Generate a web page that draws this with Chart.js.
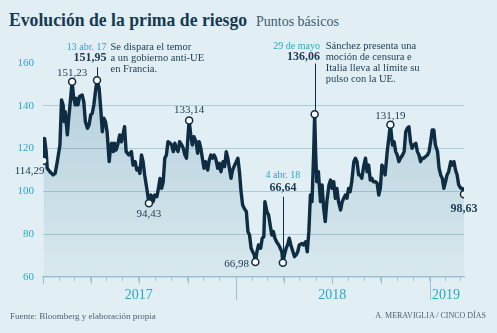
<!DOCTYPE html>
<html lang="es">
<head>
<meta charset="utf-8">
<title>Evolución de la prima de riesgo</title>
<script src="https://cdn.jsdelivr.net/npm/chart.js@4.4.1/dist/chart.umd.min.js"></script>
<style>
  html, body { margin: 0; padding: 0; }
  body { width: 497px; height: 333px; background: #e1eff4; position: relative; overflow: hidden; font-family: "Liberation Serif", serif; }
  #grafico { position: absolute; left: 0; top: 0; width: 497px; height: 333px; }
  .txt { position: absolute; white-space: nowrap; }
  #titulo { left: 9px; top: 10.3px; font-size: 19px; line-height: 20px; font-weight: bold; color: #163a51; transform: scaleX(0.93); transform-origin: left; }
  #unidad { left: 256px; top: 12px; font-size: 14px; line-height: 20px; color: #3b5b70; }
  #fuente { left: 10px; top: 309.5px; font-size: 9px; line-height: 12px; color: #4a6274; }
  #firma { right: 11px; top: 310px; font-size: 8px; line-height: 12px; color: #4a6274; }
</style>
</head>
<body>
<div class="txt" id="titulo">Evolución de la prima de riesgo</div>
<div class="txt" id="unidad">Puntos básicos</div>
<canvas id="grafico" width="497" height="333"></canvas>
<div class="txt" id="fuente">Fuente: Bloomberg y elaboración propia</div>
<div class="txt" id="firma">A. MERAVIGLIA / CINCO DÍAS</div>
<script>
// Datos: días desde el 1 de enero de 2017 y prima de riesgo (puntos básicos)
const dias = [
  1, 3, 6, 8, 13, 19, 23, 27, 30, 32, 35, 38, 40, 42, 46, 48, 51, 55, 58, 61,
  63, 66, 69, 74, 77, 80, 84, 87, 90, 93, 96, 99, 102, 106, 109, 112, 115, 118, 121, 125,
  128, 130, 133, 135, 138, 141, 145, 148, 151, 154, 157, 162, 167, 170, 174, 177, 180, 183, 186, 189,
  192, 196, 200, 204, 208, 211, 215, 218, 221, 224, 227, 230, 233, 236, 240, 243, 246, 249, 252, 255,
  258, 262, 265, 268, 271, 274, 276, 279, 282, 285, 289, 292, 295, 298, 301, 304, 307, 311, 314, 317,
  320, 323, 326, 330, 333, 336, 340, 343, 346, 349, 352, 355, 358, 362, 365, 368, 371, 374, 377, 380,
  384, 387, 390, 393, 396, 399, 401, 404, 407, 411, 414, 417, 419, 423, 426, 429, 432, 435, 438, 441,
  445, 448, 451, 453, 456, 459, 462, 465, 468, 472, 475, 478, 481, 484, 489, 492, 496, 499, 502, 505,
  508, 511, 513, 515, 517, 520, 524, 527, 530, 533, 536, 540, 543, 546, 549, 552, 555, 558, 562, 565,
  568, 571, 574, 577, 580, 583, 587, 590, 593, 596, 599, 602, 606, 609, 612, 615, 618, 621, 624, 628,
  631, 634, 637, 640, 643, 646, 650, 653, 656, 660, 663, 666, 669, 672, 675, 679, 682, 685, 688, 691,
  694, 697, 700, 704, 707, 710, 713, 716, 719, 722, 726, 729, 732, 735, 738, 741, 745, 748, 751, 754,
  757, 760, 763, 766, 770, 773, 776, 779, 782, 785, 789, 792, 795
];
const prima = [
  114.29, 124.8, 118.6, 110.8, 109.2, 107.7, 108.4, 113.9, 118.6, 121.7, 142.7, 140.4, 132.6, 137.3, 126.4, 132.6, 140.4, 151.23, 143.5, 140.4,
  143.5, 140.4, 144.3, 145, 141.9, 132.6, 129.5, 131, 135.7, 136.5, 140.4, 146.6, 151.95, 148.2, 138.8, 127.9, 134.2, 132.6, 127.9, 113.9,
  121.7, 122.5, 118.6, 122.5, 119.3, 121.7, 126.4, 123.2, 126.4, 130.2, 118.6, 117, 118.6, 112.3, 113.9, 110, 110.8, 108.4, 117, 113.9,
  107.7, 101.4, 94.43, 98.3, 95.2, 98.3, 97.5, 101.4, 106.1, 101.4, 104.5, 115.5, 117, 123.2, 122.5, 121.7, 118.6, 122.5, 120.1, 118.6,
  123.2, 121.7, 120.1, 117, 115.5, 126.4, 133.14, 126.4, 121.7, 125.6, 123.2, 117.8, 123.2, 120.1, 115.5, 110.8, 113.9, 110, 114.7, 117,
  115.5, 117, 115.5, 110.8, 113.1, 109.2, 113.9, 111.6, 118.6, 115.5, 110.8, 106.1, 110, 112.3, 113.9, 115.5, 109.2, 99.9, 93.6, 92.1,
  90.5, 81.2, 79.6, 73.4, 71.8, 70.3, 66.98, 71.8, 75, 73.4, 78.1, 78.8, 95.2, 90.5, 89, 84.3, 79.6, 81.2, 78.1, 76.5,
  75, 73.4, 71.8, 66.64, 70.3, 73.4, 75, 78.1, 75, 71.8, 69.5, 70.3, 71.8, 75, 75.7, 75, 76.5, 71.8, 81.2, 98.3,
  95.2, 117, 136.06, 117, 104.5, 109.2, 95.2, 103, 92.1, 85.9, 95.2, 103, 105.3, 101.4, 104.5, 96.8, 101.4, 95.2, 91.3, 95.2,
  96.8, 98.3, 96.8, 101.4, 99.9, 104.5, 113.9, 115.5, 113.9, 107.7, 107.7, 106.1, 112.3, 115.5, 109.2, 112.3, 105.3, 106.1, 104.5, 104.5,
  103.8, 98.3, 101.4, 112.3, 110.8, 107.7, 118.6, 124.8, 131.19, 121.7, 123.2, 118.6, 117, 113.9, 115.5, 117, 118.6, 127.9, 129.5, 130.2,
  123.2, 120.1, 121.7, 122.5, 118.6, 117, 113.9, 115.5, 115.5, 116.2, 117, 118.6, 123.2, 128.7, 128.7, 121.7, 118.6, 110.8, 107.7, 106.1,
  101.4, 104.5, 107.7, 109.2, 113.9, 112.3, 113.9, 110, 107.7, 103, 101.4, 101.4, 98.63
];

// Puntos destacados
const destacadosDias = [1, 55, 102, 200, 276, 401, 453, 513, 656, 795];
const destacadosValores = [114.29, 151.23, 151.95, 94.43, 133.14, 66.98, 66.64, 136.06, 131.19, 98.63];

// Ejes
const yTicks = [60, 80, 100, 120, 140, 160];
const aniosTexto = ["2017", "2018", "2019"];
const aniosDia = [181, 546, 761];

// Notas
const nota1 = ["Se dispara el temor", "a un gobierno anti-UE", "en Francia."];
const nota2 = ["Sánchez presenta una", "moción de censura e", "Italia lleva al límite su", "pulso con la UE."];

const LINEA = "#0e2c42";
const TEAL = "#2aa7c4";
const TEXTO = "#1c3a4f";
const EJE = "#9dc2d0";
const FUENTE = '"Liberation Serif", serif';

// Inicio de cada mes (ene 2017 - mar 2019)
const inicio = Date.UTC(2017, 0, 1);
const meses = [];
for (let m = 0; m <= 26; m++) meses.push(Math.round((Date.UTC(2017, m, 1) - inicio) / 86400000));

// Colocación de las etiquetas (relativa al marcador)
const estilos = [
  { align: "right", dx: 1, dy: 13.5 },
  { align: "center", dx: 0, dy: -6 },
  { align: "right", dx: 9.5, dy: -19.5, bold: true, fecha: "13 abr. 17", fechaDy: -30.5, lineaDy: -13, nota: nota1, notaDx: 13.5 },
  { align: "center", dx: 0, dy: 14 },
  { align: "center", dx: 0, dy: -7 },
  { align: "right", dx: -6.4, dy: 4.5 },
  { align: "center", dx: 0, dy: -72, bold: true, fecha: "4 abr. 18", fechaDy: -84.7, lineaDy: -66 },
  { align: "right", dx: 5.3, dy: -54, bold: true, fecha: "29 de mayo", fechaDy: -65, lineaDy: -50.7, nota: nota2, notaDx: 11 },
  { align: "center", dx: 0, dy: -6 },
  { align: "center", dx: 0, dy: 17.7, bold: true }
];

const fmt = v => v.toFixed(2).replace(".", ",");

const anotaciones = {
  id: "anotaciones",
  afterDatasetsDraw(chart) {
    const { ctx, scales } = chart;
    ctx.save();
    destacadosDias.forEach((d, i) => {
      const e = estilos[i];
      const mx = scales.x.getPixelForValue(d);
      const my = scales.y.getPixelForValue(destacadosValores[i]);
      if (e.lineaDy !== undefined) {
        ctx.strokeStyle = LINEA;
        ctx.lineWidth = 1;
        ctx.beginPath();
        ctx.moveTo(Math.round(mx) + 0.5, my + e.lineaDy);
        ctx.lineTo(Math.round(mx) + 0.5, my - 3.5);
        ctx.stroke();
      }
      ctx.textAlign = e.align;
      ctx.textBaseline = "alphabetic";
      if (e.fecha) {
        ctx.font = "10px " + FUENTE;
        ctx.fillStyle = TEAL;
        ctx.fillText(e.fecha, mx + e.dx, my + e.fechaDy);
      }
      ctx.font = (e.bold ? "bold 12px " : "11px ") + FUENTE;
      ctx.fillStyle = TEXTO;
      ctx.fillText(fmt(destacadosValores[i]), mx + e.dx, my + e.dy);
      if (e.nota) {
        ctx.textAlign = "left";
        ctx.font = "10.5px " + FUENTE;
        e.nota.forEach((l, k) => ctx.fillText(l, mx + e.notaDx, my + e.fechaDy + k * 11));
      }
    });
    ctx.restore();
  }
};

// Marcas largas: trimestres y cambio de año
const marcasEje = {
  id: "marcasEje",
  afterDraw(chart) {
    const { ctx, scales, chartArea } = chart;
    ctx.save();
    ctx.strokeStyle = EJE;
    ctx.lineWidth = 1;
    meses.forEach((d, i) => {
      let largo = 0;
      if (i % 12 === 0 && i > 0) largo = 23;
      else if (i % 3 === 0) largo = 7;
      if (!largo) return;
      const px = Math.round(scales.x.getPixelForValue(d)) + 0.5;
      ctx.beginPath();
      ctx.moveTo(px, chartArea.bottom);
      ctx.lineTo(px, chartArea.bottom + largo);
      ctx.stroke();
    });
    ctx.restore();
  }
};

new Chart(document.getElementById("grafico"), {
  type: "line",
  data: {
    datasets: [
      {
        label: "Destacados",
        data: destacadosDias.map((d, i) => ({ x: d, y: destacadosValores[i] })),
        showLine: false,
        pointRadius: 3.5,
        pointBackgroundColor: "#ffffff",
        pointBorderColor: LINEA,
        pointBorderWidth: 1.5,
        order: 0
      },
      {
        label: "Prima de riesgo",
        data: dias.map((d, i) => ({ x: d, y: prima[i] })),
        borderColor: LINEA,
        borderWidth: 3.4,
        borderJoinStyle: "round",
        pointRadius: 0,
        tension: 0,
        fill: "start",
        backgroundColor: c => {
          const a = c.chart.chartArea;
          if (!a) return "rgba(60,120,150,0.18)";
          const g = c.chart.ctx.createLinearGradient(0, a.top, 0, a.bottom);
          g.addColorStop(0, "rgba(60,120,150,0.28)");
          g.addColorStop(1, "rgba(60,120,150,0.05)");
          return g;
        },
        order: 1
      }
    ]
  },
  options: {
    responsive: false,
    animation: false,
    devicePixelRatio: 1,
    layout: { padding: { top: 63, right: 33, bottom: 26, left: 0 } },
    plugins: { legend: { display: false }, tooltip: { enabled: false } },
    scales: {
      x: {
        type: "linear",
        min: 0,
        max: 795,
        afterBuildTicks: s => { s.ticks = meses.map(v => ({ value: v })); },
        afterFit: s => { s.height = 30; },
        grid: { drawOnChartArea: false, drawTicks: true, tickLength: 4, color: EJE, lineWidth: 1 },
        border: { display: true, color: EJE, width: 1.5 },
        ticks: {
          autoSkip: false,
          maxRotation: 0,
          padding: 6,
          color: TEAL,
          font: { family: FUENTE, size: 14 },
          callback: v => {
            const i = aniosDia.indexOf(v);
            return i >= 0 ? aniosTexto[i] : "";
          }
        }
      },
      y: {
        min: 60,
        max: 160,
        afterBuildTicks: s => { s.ticks = yTicks.map(v => ({ value: v })); },
        afterFit: s => { s.width = 43; },
        grid: {
          drawTicks: false,
          color: c => (c.tick && (c.tick.value === 60 || c.tick.value === 160)) ? "rgba(0,0,0,0)" : "#aacbd8",
          lineWidth: 1
        },
        border: { display: false },
        ticks: { padding: 9, color: TEAL, font: { family: FUENTE, size: 11 } }
      }
    }
  },
  plugins: [anotaciones, marcasEje]
});
</script>
</body>
</html>
